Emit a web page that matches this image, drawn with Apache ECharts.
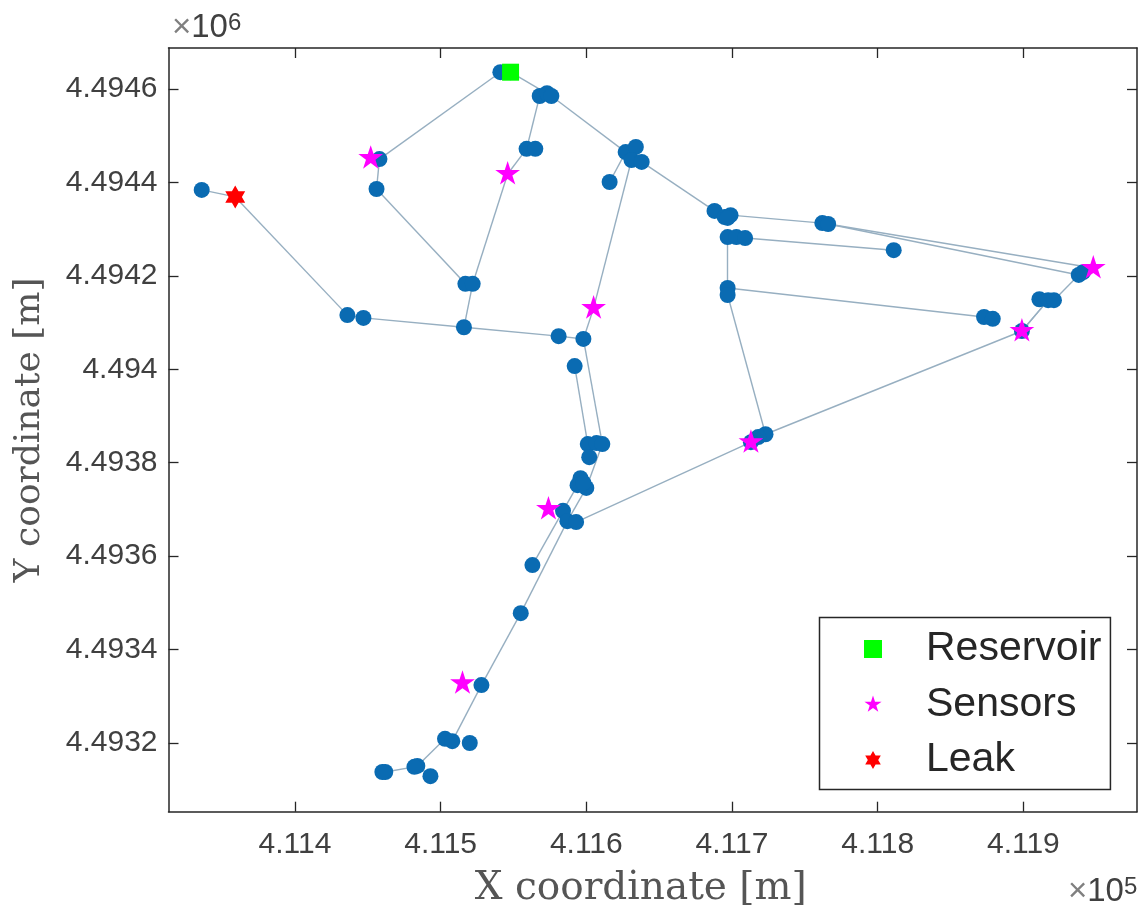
<!DOCTYPE html>
<html><head><meta charset="utf-8">
<style>html,body{margin:0;padding:0;background:#fff}#c{width:1143px;height:914px}</style>
<script src="https://cdn.jsdelivr.net/npm/echarts@6/dist/echarts.min.js"></script>
</head><body><div id="c"></div>
<script>
// Map data: planar coordinates in metres
const nodeX = [411336,411436,411447,411516,411581,411598,411517,411522,411456,411458,411541,411548,411568,411573,411576,411559,411565,411627,411634,411631,411638,411616,411688,411695,411699,411697,411762,411766,411697,411703,411709,411811,411697,411697,411873,411879,411911,411917,411921,411938,411941,411723,411718,411592,411601,411607,411611,411602,411596,411594,411600,411598,411584,411587,411593,411563,411555,411528,411503,411508,411520,411484,411482,411493,411462,411460,411899,411713];
const nodeY = [4494384,4494116,4494110,4494090,4494071,4494065,4494183,4494183,4494386,4494450,4494636,4494636,4494585,4494591,4494585,4494472,4494472,4494465,4494476,4494448,4494444,4494401,4494339,4494326,4494330,4494324,4494313,4494311,4494283,4494283,4494281,4494255,4494174,4494159,4494112,4494108,4494150,4494148,4494148,4494202,4494208,4493861,4493855,4494007,4493840,4493842,4493840,4493812,4493767,4493752,4493746,4493757,4493697,4493675,4493673,4493581,4493478,4493324,4493209,4493204,4493200,4493151,4493149,4493129,4493138,4493138,4494082,4493844];
const sensorX = [411452,411546,411605,411948,411899,411713,411574,411515];
const sensorY = [4494452,4494418,4494131,4494217,4494082,4493844,4493701,4493328];
const leakX = [411359];
const leakY = [4494369];
const reservoirX = [411548];
const reservoirY = [4494636];
// indices: 0-67 nodes, 68-75 sensors, 76 leak
const edgeFrom = [0,76,1,2,3,4,3,6,6,8,9,7,69,15,15,10,11,14,17,17,17,19,19,70,20,22,23,24,24,26,27,27,28,29,30,28,33,32,34,39,39,40,38,37,36,37,66,41,42,67,5,43,44,46,50,53,56,57,58,58,61,62,64,61,49,52,48,51,12,13,44,45];
const edgeTo =   [76,1,2,3,4,5,7,7,8,9,10,69,15,16,12,11,14,17,18,21,19,20,70,5,22,23,24,25,26,27,71,39,29,30,31,32,41,34,35,40,38,71,37,72,37,66,41,42,67,54,46,44,47,50,53,56,57,59,59,61,62,64,65,63,52,55,51,49,13,14,45,46];
const xTicks = [411400,411500,411600,411700,411800,411900];
const yTicks = [4493200,4493400,4493600,4493800,4494000,4494200,4494400,4494600];
const xRange = [411313.2,411978];
const yRange = [4493053,4494687.8];
const legendNames = ['Reservoir','Sensors','Leak'];

const zip = (a,b)=>a.map((v,i)=>[v,b[i]]);
const STAR='path://M50 0L61.2 34.5L97.6 34.5L68.2 55.9L79.4 90.5L50 69.1L20.6 90.5L31.8 55.9L2.4 34.5L38.8 34.5ZM50 100L50 100Z';
const HEX='path://M50 0L64.4 25L93.3 25L78.9 50L93.3 75L64.4 75L50 100L35.6 75L6.7 75L21.1 50L6.7 25L35.6 25Z';
const SQUARE='path://M0 0L100 0L100 100L0 100Z';
const INK='#262626', LABEL='#404040';
const mk=(pos,ticks,range,fmt,name,gap,show,nameSize,margin,namePad)=>({
  type:'value',position:pos,min:range[0],max:range[1],scale:true,splitLine:{show:false},
  axisLine:{show:true,onZero:false,lineStyle:{color:INK,width:1.5}},
  axisTick:{show:true,inside:true,length:10,customValues:ticks,lineStyle:{color:INK,width:1.3}},
  axisLabel:{show:show,customValues:ticks,formatter:fmt,fontFamily:'Liberation Sans',fontSize:30,color:LABEL,margin:margin||11},
  name:show?name:'',nameLocation:'middle',nameGap:gap,
  nameTextStyle:{fontFamily:'DejaVu Serif',fontSize:nameSize||36,color:'#555555',padding:namePad||0}
});
const chart=echarts.init(document.getElementById('c'),null,{renderer:'canvas'});
chart.setOption({
  animation:false,backgroundColor:'#fff',
  grid:{left:168.5,right:6,top:48,bottom:102.3,containLabel:false,outerBoundsMode:'none'},
  xAxis:[mk('bottom',xTicks,xRange,v=>String(+(v/1e5).toFixed(4)),'X coordinate [m]',58,true,39,18,[0,24,0,0]),mk('top',xTicks,xRange,null,'',0,false)],
  yAxis:[mk('left',yTicks,yRange,v=>String(+(v/1e6).toFixed(5)),'Y coordinate [m]',121,true,36,11),mk('right',yTicks,yRange,null,'',0,false)],
  legend:{show:true,data:legendNames,orient:'vertical',left:819.5,top:617.5,
    backgroundColor:'#fff',borderColor:INK,borderWidth:1.5,borderRadius:0,
    padding:[11,9,9,44.5],itemWidth:96,itemHeight:18,itemGap:14.5,
    textStyle:{fontFamily:'Liberation Sans',fontSize:41,color:INK}},
  series:[
    {type:'graph',name:'Network',coordinateSystem:'cartesian2d',silent:true,z:2,
      layout:'none',
      data:zip(nodeX.concat(sensorX,leakX),nodeY.concat(sensorY,leakY)).map((v,i)=>({value:v,symbolSize:i<nodeX.length?16:0})),
      links:edgeFrom.map((s,i)=>({source:s,target:edgeTo[i]})),
      itemStyle:{color:'#0A6BB2'},
      lineStyle:{color:'#97AFC1',width:1.4,opacity:1,curveness:0},
      label:{show:false}},
    {type:'scatter',name:'Sensors',data:zip(sensorX,sensorY),symbol:STAR,symbolSize:26,symbolKeepAspect:true,itemStyle:{color:'#FF00FF',opacity:1},z:5},
    {type:'scatter',name:'Leak',data:zip(leakX,leakY),symbol:HEX,symbolSize:23,symbolKeepAspect:true,itemStyle:{color:'#FF0000',opacity:1},z:5},
    {type:'scatter',name:'Reservoir',data:zip(reservoirX,reservoirY),symbol:SQUARE,symbolSize:17,symbolKeepAspect:true,itemStyle:{color:'#00FF00',opacity:1},z:6}
  ],
  graphic:[
    {type:'text',left:172,top:11,style:{rich:{a:{fontFamily:'Liberation Sans',fontSize:33,fill:'#808080',verticalAlign:'bottom'},b:{fontFamily:'Liberation Sans',fontSize:33,fill:LABEL,verticalAlign:'bottom'},c:{fontFamily:'Liberation Sans',fontSize:24,fill:LABEL,verticalAlign:'top'}},text:'{a|×}{b|10}{c|6}'}},
    {type:'text',left:1068,top:875,style:{rich:{a:{fontFamily:'Liberation Sans',fontSize:33,fill:'#808080',verticalAlign:'bottom'},b:{fontFamily:'Liberation Sans',fontSize:33,fill:LABEL,verticalAlign:'bottom'},c:{fontFamily:'Liberation Sans',fontSize:24,fill:LABEL,verticalAlign:'top'}},text:'{a|×}{b|10}{c|5}'}}
  ]
});
</script></body></html>
